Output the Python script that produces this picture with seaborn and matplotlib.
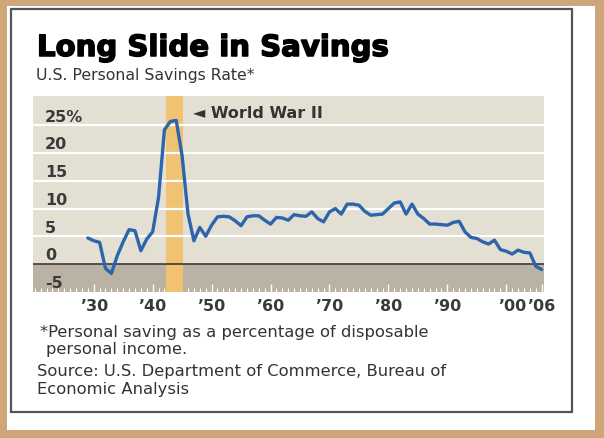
import numpy as np
import pandas as pd
import seaborn as sns
import matplotlib.pyplot as plt
import matplotlib.patheffects as pe
from matplotlib.patches import Rectangle
from matplotlib.ticker import MultipleLocator

# U.S. personal savings rate, percent of disposable income
years = list(range(1929, 2007))
rate = [4.7, 4.2, 3.9, -0.8, -1.7, 1.5, 4.0, 6.2, 6.0, 2.4,
        4.5, 5.8, 12.0, 24.2, 25.7, 25.9, 19.5, 9.0, 4.2, 6.6,
        5.0, 7.0, 8.5, 8.6, 8.5, 7.8, 6.9, 8.5, 8.7, 8.7,
        7.9, 7.2, 8.4, 8.3, 7.9, 8.9, 8.7, 8.6, 9.4, 8.2,
        7.6, 9.4, 10.0, 9.0, 10.8, 10.8, 10.6, 9.5, 8.8, 8.9,
        9.0, 10.0, 11.0, 11.2, 9.0, 10.8, 9.0, 8.2, 7.2, 7.2,
        7.1, 7.0, 7.5, 7.7, 5.8, 4.8, 4.6, 4.0, 3.6, 4.3,
        2.6, 2.3, 1.8, 2.5, 2.1, 2.0, -0.4, -1.0]

ytick_vals = [-5, 0, 5, 10, 15, 20, 25]
ytick_text = ["-5", "0", "5", "10", "15", "20", "25%"]
xtick_vals = [1930, 1940, 1950, 1960, 1970, 1980, 1990, 2000, 2006]
xtick_text = ["\u201930", "\u201940", "\u201950", "\u201960", "\u201970",
              "\u201980", "\u201990", "\u201900", "\u201906"]
war_start, war_end = 1942.3, 1945.1

df = pd.DataFrame({"year": years, "rate": rate})

sns.set_theme(style="white")
plt.rcParams["font.family"] = ["DejaVu Sans"]

W, H = 604, 439
fig = plt.figure(figsize=(W / 100, H / 100), dpi=100, facecolor="#cfa679")

def px(x0, y0, x1, y1):
    # pixel box (from top-left) -> figure fraction rectangle
    return (x0 / W, 1 - y1 / H, (x1 - x0) / W, (y1 - y0) / H)

x0, y0, w, h = px(7, 7, 595, 431)
fig.patches.append(Rectangle((x0, y0), w, h, transform=fig.transFigure,
                             facecolor="white", edgecolor="none", zorder=-3))
x0, y0, w, h = px(11, 10, 572, 413)
fig.patches.append(Rectangle((x0, y0), w, h, transform=fig.transFigure,
                             facecolor="none", edgecolor="#555555", lw=1.6, zorder=-2))

ax = fig.add_axes(px(33, 97, 544, 293))
ax.set_zorder(1)
ax.set_facecolor("#e3dfd3")
ax.set_xlim(1919.7, 2006.4)
ax.set_ylim(-5.05, 30.3)

ax.axhspan(-10, 0, color="#bab2a3", lw=0, zorder=0)
ax.axvspan(war_start, war_end, color="#f0c272", lw=0, zorder=1)
for v in ytick_vals[2:]:
    ax.axhline(v, color="white", lw=1.6, zorder=1)
ax.axhline(0, color="#3a3a3a", lw=1.2, zorder=2)

sns.lineplot(data=df, x="year", y="rate", ax=ax, color="#2d65ad", lw=2.4,
             zorder=3, legend=False)

for v, t in zip(ytick_vals, ytick_text):
    ax.text(1921.7, v + 0.3, t, ha="left", va="bottom", fontsize=11.5,
            fontweight="bold", color="#3a3a3a", zorder=4)

ax.text(1946.9, 27.4, "\u25c4 World War II", ha="left", va="center",
        fontsize=11.5, fontweight="bold", color="#333333", zorder=4)

for s in ax.spines.values():
    s.set_visible(False)
ax.set_yticks([])
ax.set_xticks(xtick_vals)
tick_kw = dict(fontsize=11.5, fontweight="bold", color="#3a3a3a")
# the '00 label sits a little right of its tick in the original, so it is
# drawn as an offset annotation instead of a plain tick label
ax.set_xticklabels([t if v != 2000 else "" for v, t in zip(xtick_vals, xtick_text)],
                   **tick_kw)
ax.annotate(xtick_text[7], xy=(2000, 0), xycoords=("data", "axes fraction"),
            xytext=(4.5, -4), textcoords="offset points", ha="center", va="top",
            annotation_clip=False, **tick_kw)
ax.xaxis.set_minor_locator(MultipleLocator(1))
ax.tick_params(axis="x", which="major", direction="in", length=6, width=1,
               color="white", pad=4, bottom=True)
ax.tick_params(axis="x", which="minor", direction="in", length=3, width=0.8,
               color="white", bottom=True)
ax.set_xlabel("")
ax.set_ylabel("")

fig.text(37 / W, 1 - 57 / H, "Long Slide in Savings", fontsize=21,
         fontweight="bold", color="black", va="baseline",
         path_effects=[pe.withStroke(linewidth=1.1, foreground="black")])
fig.text(36 / W, 1 - 80 / H, "U.S. Personal Savings Rate*", fontsize=11.3,
         color="#333333", va="baseline")
note_kw = dict(fontsize=11.8, color="#333333", va="baseline")
fig.text(40 / W, 1 - 337 / H, "*Personal saving as a percentage of disposable", **note_kw)
fig.text(46 / W, 1 - 354 / H, "personal income.", **note_kw)
fig.text(37 / W, 1 - 376 / H, "Source: U.S. Department of Commerce, Bureau of", **note_kw)
fig.text(37 / W, 1 - 394 / H, "Economic Analysis", **note_kw)

fig.savefig("out.png", dpi=100, facecolor=fig.get_facecolor())
